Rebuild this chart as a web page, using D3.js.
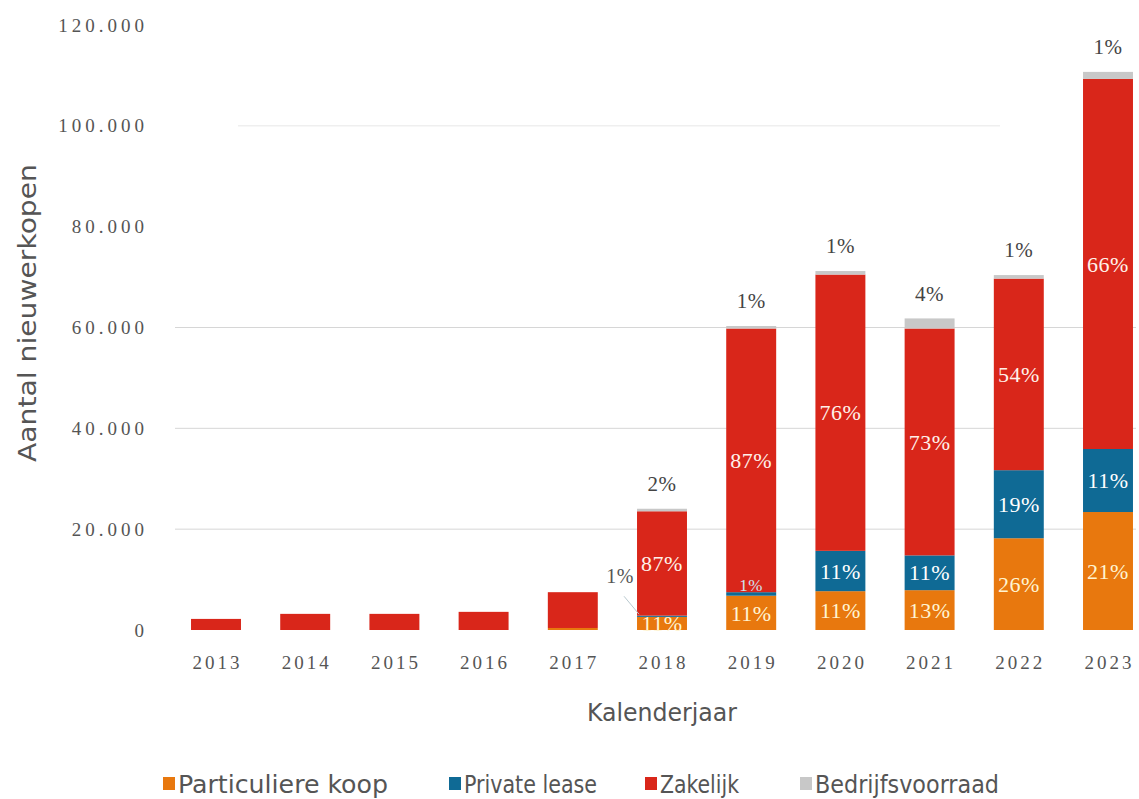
<!DOCTYPE html>
<html>
<head>
<meta charset="utf-8">
<script src="https://cdn.jsdelivr.net/npm/d3@7"></script>
<style>
  html, body { margin: 0; padding: 0; background: #fff; }
  svg { display: block; }
</style>
</head>
<body>
<svg id="chart" width="1139" height="799"></svg>
<script>
// ---- data ----
const years = ["2013","2014","2015","2016","2017","2018","2019","2020","2021","2022","2023"];
const particuliereKoop = [0, 0, 0, 0, 400, 2600, 6800, 7700, 7900, 18200, 23400];
const privateLease     = [0, 0, 0, 0, 0, 250, 700, 8000, 6900, 13500, 12500];
const zakelijk         = [2200, 3200, 3200, 3600, 7100, 20700, 52300, 54800, 45000, 38000, 73400];
const bedrijfsvoorraad = [0, 0, 0, 0, 0, 500, 500, 700, 2000, 700, 1400];

const labelsParticulier = ["", "", "", "", "", "11%", "11%", "11%", "13%", "26%", "21%"];
const labelsLease       = ["", "", "", "", "", "1%", "1%", "11%", "11%", "19%", "11%"];
const labelsZakelijk    = ["", "", "", "", "", "87%", "87%", "76%", "73%", "54%", "66%"];
const labelsBedrijf     = ["", "", "", "", "", "2%", "1%", "1%", "4%", "1%", "1%"];

const yTicks = [0, 20000, 40000, 60000, 80000, 100000, 120000];
const gridTicks = [20000, 40000, 60000];
const faintGridTicks = [100000];

const seriesNames = ["Particuliere koop", "Private lease", "Zakelijk", "Bedrijfsvoorraad"];
const seriesColors = ["#e8780e", "#0f6a95", "#d9261a", "#c8c8c8"];
const seriesLabelColors = ["#fff4d2", "#ffffff", "#fff1ea", "#444444"];

// ---- build table ----
const keys = ["p", "l", "z", "b"];
const table = years.map((y, i) => ({
  year: y,
  p: particuliereKoop[i], l: privateLease[i], z: zakelijk[i], b: bedrijfsvoorraad[i],
  lab: [labelsParticulier[i], labelsLease[i], labelsZakelijk[i], labelsBedrijf[i]]
}));

const svg = d3.select("#chart");
const serif = "'Liberation Serif', 'DejaVu Serif', serif";
const sans = "'DejaVu Sans Condensed', 'Liberation Sans Narrow', 'Liberation Sans', sans-serif";

const x = d3.scaleBand().domain(years).range([171.4, 1152.6]).paddingInner(0.44).paddingOuter(0.22);
const y = d3.scaleLinear().domain([0, 120000]).range([630, 25]);

// gridlines
svg.append("g").selectAll("line").data(gridTicks).join("line")
  .attr("x1", 175).attr("x2", 1136)
  .attr("y1", d => y(d)).attr("y2", d => y(d))
  .attr("stroke", "#d6d6d6").attr("stroke-width", 1);
svg.append("g").selectAll("line").data(faintGridTicks).join("line")
  .attr("x1", 238).attr("x2", 1000)
  .attr("y1", d => y(d)).attr("y2", d => y(d))
  .attr("stroke", "#efefef").attr("stroke-width", 1.5);

// y axis labels
const yAxis = d3.axisLeft(y).tickValues(yTicks).tickSize(0).tickPadding(0)
  .tickFormat(d => d3.format(",")(d).replace(/,/g, "."));
const gy = svg.append("g").attr("transform", "translate(148,0)").call(yAxis);
gy.select(".domain").remove();
gy.selectAll("text")
  .attr("font-family", serif).attr("font-size", 19).attr("fill", "#555")
  .attr("letter-spacing", "4px").attr("dy", "0.32em");

// x axis labels
const xAxis = d3.axisBottom(x).tickSize(0).tickPadding(0);
const gx = svg.append("g").attr("transform", "translate(1.5,655)").call(xAxis);
gx.select(".domain").remove();
gx.selectAll("text")
  .attr("font-family", serif).attr("font-size", 19).attr("fill", "#555")
  .attr("letter-spacing", "3px").attr("dy", "0.71em");

// stacked bars
const stack = d3.stack().keys(keys)(table);
const layers = svg.append("g").selectAll("g").data(stack).join("g")
  .attr("fill", (d, i) => seriesColors[i]);
layers.selectAll("rect").data(d => d).join("rect")
  .attr("x", d => x(d.data.year))
  .attr("width", x.bandwidth())
  .attr("y", d => y(d[1]))
  .attr("height", d => Math.max(0, y(d[0]) - y(d[1])));

// segment labels
const labG = svg.append("g").attr("font-family", serif).attr("font-size", 22)
  .attr("text-anchor", "middle").attr("letter-spacing", "0.5px");
stack.forEach((layer, si) => {
  layer.forEach(seg => {
    const txt = seg.data.lab[si];
    if (!txt) return;
    const cx = x(seg.data.year) + x.bandwidth() / 2;
    const top = y(seg[1]), bot = y(seg[0]);
    const h = bot - top;
    if (si === 3) {
      labG.append("text").attr("x", cx).attr("y", top - 25).attr("dy", "0.35em")
        .attr("fill", seriesLabelColors[si]).attr("font-size", 21).text(txt);
    } else if (h < 2.5) {
      // very small segment: label outside with leader line
      const lx = x(seg.data.year) - 17, ly = (top + bot) / 2 - 40;
      svg.append("line").attr("x1", lx + 4).attr("y1", ly + 20)
        .attr("x2", x(seg.data.year) + 2).attr("y2", (top + bot) / 2 - 2)
        .attr("stroke", "#b9c9cf").attr("stroke-width", 1);
      labG.append("text").attr("x", lx).attr("y", ly).attr("dy", "0.35em")
        .attr("fill", "#555").attr("font-size", 20).text(txt);
    } else if (h < 10) {
      // small segment: compact label sitting on top of the segment
      labG.append("text").attr("x", cx).attr("y", top - 1)
        .attr("fill", "#cfe3f0").attr("font-size", 17).text(txt);
    } else {
      labG.append("text").attr("x", cx).attr("y", (top + bot) / 2).attr("dy", "0.35em")
        .attr("fill", seriesLabelColors[si]).text(txt);
    }
  });
});

// axis titles
svg.append("text").attr("x", 662).attr("y", 712).attr("dy", "0.35em")
  .attr("text-anchor", "middle").attr("font-family", sans).attr("font-size", 25)
  .attr("textLength", 150).attr("lengthAdjust", "spacingAndGlyphs")
  .attr("fill", "#555").text("Kalenderjaar");
svg.append("text").attr("transform", "translate(27,313) rotate(-90)").attr("dy", "0.35em")
  .attr("text-anchor", "middle").attr("font-family", sans).attr("font-size", 25)
  .attr("textLength", 298).attr("lengthAdjust", "spacingAndGlyphs")
  .attr("fill", "#555").text("Aantal nieuwerkopen");

// legend
const legendX = [163, 449, 645, 800];
const legendTextWidths = [210, 133, 79, 184];
const lg = svg.append("g");
seriesNames.forEach((name, i) => {
  lg.append("rect").attr("x", legendX[i]).attr("y", 777).attr("width", 12).attr("height", 13)
    .attr("fill", seriesColors[i]);
  lg.append("text").attr("x", legendX[i] + 15).attr("y", 784).attr("dy", "0.35em")
    .attr("font-family", sans).attr("font-size", 25).attr("fill", "#555")
    .attr("textLength", legendTextWidths[i]).attr("lengthAdjust", "spacingAndGlyphs")
    .text(name);
});
</script>
</body>
</html>
